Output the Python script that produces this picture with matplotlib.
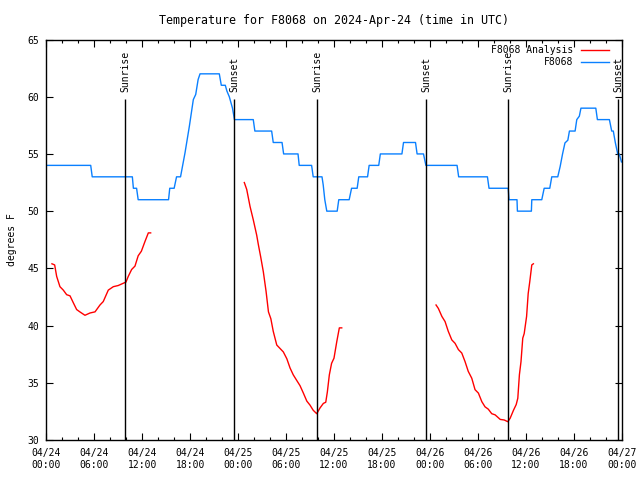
import numpy as np
import matplotlib
matplotlib.use("Agg")
import matplotlib.pyplot as plt
from matplotlib.ticker import MultipleLocator


#observed temperature (hours since 04/24 00:00 UTC, degrees F)
obs_hours = [0, 5.56, 5.75, 10.77, 10.9, 11.3, 11.5, 15.3, 15.45, 16.0, 16.3, 16.8,
             17.36, 17.9, 18.4, 18.7, 19.0, 19.24, 21.65, 21.9, 22.4, 22.6, 22.9, 23.1,
             23.3, 23.55, 25.9, 26.1, 28.2, 28.4, 29.5, 29.7, 31.5, 31.65, 33.2, 33.4,
             34.5, 34.65, 34.85, 35.1, 36.4, 36.6, 37.9, 38.2, 38.9, 39.1, 40.2, 40.4,
             41.6, 41.8, 44.5, 44.7, 46.2, 46.4, 47.2, 47.5, 51.4, 51.6, 55.2, 55.4,
             57.8, 57.9, 58.9, 58.95, 60.7, 60.75, 62.0, 62.3, 63.0, 63.25, 64.0, 64.3,
             64.6, 64.9, 65.26, 65.46, 66.17, 66.38, 66.7, 66.9, 68.76, 68.96, 70.46,
             70.75, 70.95, 71.2, 71.5, 71.7, 71.97]
obs_temp = [54, 54, 53, 53, 52, 52, 51, 51, 52, 52, 53, 53,
            55.1, 57.4, 59.75, 60.2, 61.5, 62, 62, 61, 61, 60.5, 60, 59.5,
            59, 58, 58, 57, 57, 56, 56, 55, 55, 54, 54, 53,
            53, 52.3, 51, 50, 50, 51, 51, 52, 52, 53, 53, 54,
            54, 55, 55, 56, 56, 55, 55, 54, 54, 53, 53, 52,
            52, 51, 51, 50, 50, 51, 51, 52, 52, 53, 53, 53.9,
            55, 55.96, 56.2, 57, 57, 58, 58.3, 59, 59, 58, 58,
            57, 57, 56, 55, 55, 54.3]

#analysis segments
ana1_hours = [0.71, 1.05, 1.3, 1.71, 2.13, 2.55, 2.97, 3.38, 3.8, 4.2, 4.84, 5.47, 6.1, 6.72,
              7.13, 7.76, 8.39, 9.0, 9.64, 9.97, 10.26, 10.68, 11.1, 11.5, 11.9, 12.35, 12.77, 13.06]
ana1_temp = [45.4, 45.3, 44.3, 43.4, 43.1, 42.7, 42.6, 42.0, 41.4, 41.2, 40.9, 41.1, 41.2, 41.8,
             42.1, 43.1, 43.4, 43.5, 43.7, 43.8, 44.3, 44.9, 45.2, 46.1, 46.5, 47.35, 48.1, 48.1]

ana2_hours = [24.78, 25.08, 25.5, 25.9, 26.33, 26.53, 26.83, 27.16, 27.5, 27.8, 28.1, 28.4,
              28.84, 29.25, 29.66, 30.1, 30.5, 30.9, 31.3, 31.75, 32.17, 32.6, 33.0, 33.4,
              33.84, 34.25, 34.67, 34.97, 35.17, 35.42, 35.7, 36.0, 36.35, 36.67, 36.97]
ana2_temp = [52.5, 51.9, 50.4, 49.25, 47.9, 47.1, 46.0, 44.7, 43.0, 41.2, 40.6, 39.5,
             38.3, 38.0, 37.7, 37.1, 36.3, 35.7, 35.25, 34.75, 34.1, 33.4, 33.05, 32.6,
             32.3, 32.8, 33.2, 33.3, 34.2, 35.7, 36.7, 37.15, 38.6, 39.8, 39.8]

ana3_hours = [48.77, 49.06, 49.5, 49.9, 50.3, 50.74, 51.15, 51.57, 51.99, 52.4, 52.8, 53.24,
              53.65, 54.07, 54.5, 54.9, 55.3, 55.74, 56.16, 56.8, 57.3, 57.75, 58.04, 58.46,
              58.8, 59.0, 59.2, 59.4, 59.62, 59.8, 60.1, 60.3, 60.5, 60.75, 60.95]
ana3_temp = [41.8, 41.5, 40.8, 40.35, 39.5, 38.75, 38.45, 37.9, 37.6, 36.85, 36.0, 35.4,
             34.4, 34.1, 33.35, 32.9, 32.7, 32.3, 32.2, 31.8, 31.75, 31.6, 31.9, 32.6,
             33.1, 33.65, 35.7, 36.85, 38.9, 39.3, 40.8, 42.8, 43.85, 45.3, 45.4]

#sunrise / sunset markers
sun_hours = [9.91, 23.49, 33.92, 47.56, 57.82, 71.6]
sun_names = ["Sunrise", "Sunset", "Sunrise", "Sunset", "Sunrise", "Sunset"]

tick_hours = list(range(0, 73, 6))
tick_labels = ["04/24\n00:00", "04/24\n06:00", "04/24\n12:00", "04/24\n18:00",
               "04/25\n00:00", "04/25\n06:00", "04/25\n12:00", "04/25\n18:00",
               "04/26\n00:00", "04/26\n06:00", "04/26\n12:00", "04/26\n18:00",
               "04/27\n00:00"]


def main():
    plt.rcParams['font.family'] = 'DejaVu Sans Mono'
    plt.rcParams['font.size'] = 7

    fig = plt.figure(figsize=(6.4, 4.8), dpi=100)
    ax = fig.add_axes([0.0723, 0.0833, 0.8991, 0.8344])

    red = '#ff0000'
    blue = '#0a80ff'

    ax.plot(ana1_hours, ana1_temp, color=red, lw=1.0, label='F8068 Analysis')
    ax.plot(ana2_hours, ana2_temp, color=red, lw=1.0)
    ax.plot(ana3_hours, ana3_temp, color=red, lw=1.0)
    ax.plot(obs_hours, obs_temp, color=blue, lw=1.0, label='F8068')

    #sun lines with rotated labels
    ax.vlines(sun_hours, 30, 59.8, color='black', lw=1.0)
    for h, name in zip(sun_hours, sun_names):
        ax.text(h, 60.45, name, rotation=90, ha='center', va='bottom')

    ax.set_xlim(0, 72)
    ax.set_ylim(30, 65)
    ax.set_xticks(tick_hours)
    ax.set_xticklabels(tick_labels)
    ax.xaxis.set_minor_locator(MultipleLocator(2))
    ax.yaxis.set_major_locator(MultipleLocator(5))
    ax.tick_params(which='both', direction='in', top=True, right=True, width=0.8)
    ax.tick_params(which='major', length=5)
    ax.tick_params(which='minor', length=2.5)
    ax.tick_params(axis='x', pad=6)
    ax.tick_params(axis='y', pad=5)
    for s in ax.spines.values():
        s.set_linewidth(1.0)

    ax.set_ylabel('degrees F', labelpad=7.5)
    ax.set_title('Temperature for F8068 on 2024-Apr-24 (time in UTC)', pad=11)

    ax.legend(loc='upper right', frameon=False, markerfirst=False,
              handlelength=2.9, handletextpad=0.8, labelspacing=0.2,
              borderaxespad=0.0, bbox_to_anchor=(0.985, 0.995))

    fig.savefig('out.png', dpi=100)


if __name__ == "__main__":
    main()
